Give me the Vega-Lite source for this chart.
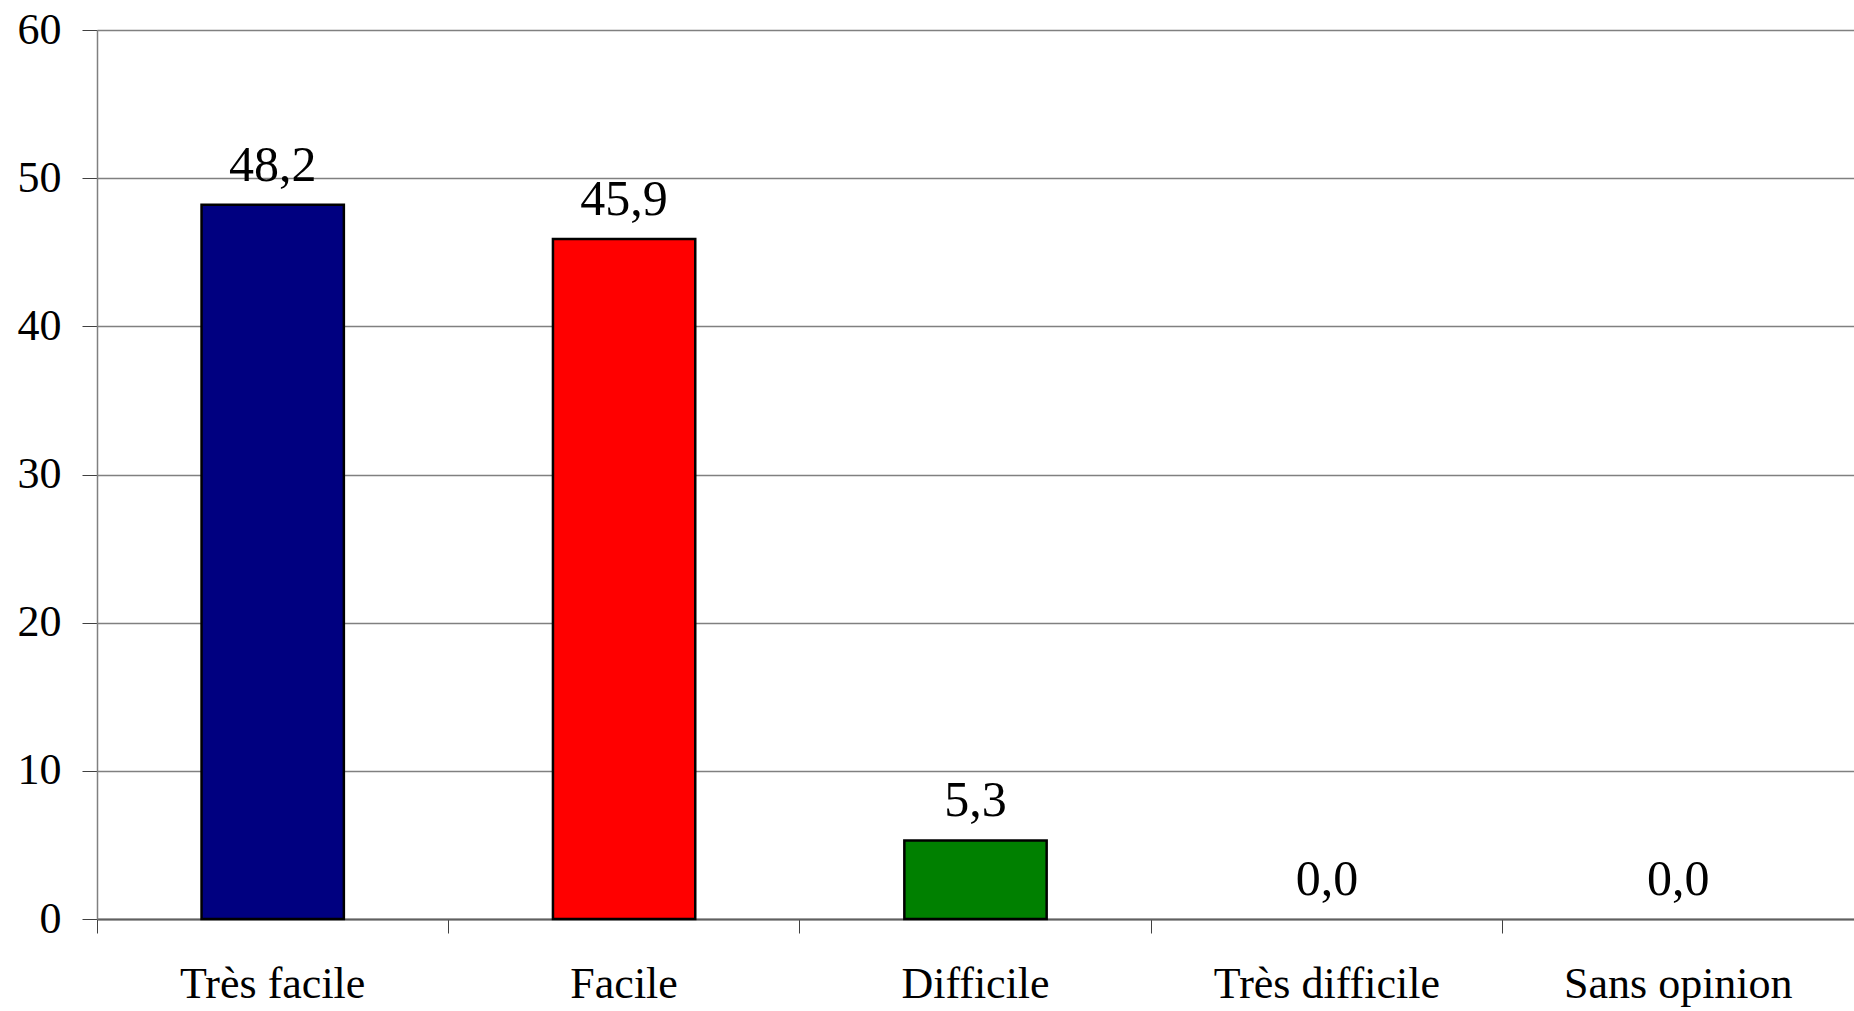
{
  "$schema": "https://vega.github.io/schema/vega-lite/v6.json",
  "width": 1757,
  "height": 889,
  "autosize": {"type": "none"},
  "padding": {"left": 97, "top": 30, "right": 0, "bottom": 92},
  "background": "white",
  "config": {"view": {"stroke": null}, "font": "Liberation Serif"},
  "data": {"values": [
    {"categorie": "Très facile", "valeur": 48.2, "label": "48,2", "couleur": "#000080"},
    {"categorie": "Facile", "valeur": 45.9, "label": "45,9", "couleur": "#FF0000"},
    {"categorie": "Difficile", "valeur": 5.3, "label": "5,3", "couleur": "#008000"},
    {"categorie": "Très difficile", "valeur": 0.0, "label": "0,0", "couleur": "#FFFF00"},
    {"categorie": "Sans opinion", "valeur": 0.0, "label": "0,0", "couleur": "#00FFFF"}
  ]},
  "encoding": {
    "x": {
      "field": "categorie", "type": "nominal", "sort": null,
      "scale": {"paddingInner": 0, "paddingOuter": 0},
      "axis": {
        "title": null, "labelAngle": 0, "labelFont": "Liberation Serif", "labelFontSize": 44,
        "labelColor": "black", "labelBaseline": "alphabetic", "labelPadding": 64, "labelLimit": 0,
        "bandPosition": 0, "tickSize": 14, "tickColor": "#404040", "tickWidth": 1,
        "domainColor": "#606060", "domainWidth": 2, "grid": false
      }
    },
    "y": {
      "field": "valeur", "type": "quantitative",
      "scale": {"domain": [0, 60], "nice": false},
      "axis": {
        "title": null, "values": [0, 10, 20, 30, 40, 50, 60], "labelFont": "Liberation Serif",
        "labelFontSize": 44, "labelColor": "black", "labelPadding": 21, "tickSize": 15,
        "tickColor": "#404040", "domainColor": "#808080", "domainWidth": 1.5,
        "grid": true, "gridColor": "#808080", "gridWidth": 1.5
      }
    }
  },
  "layer": [
    {
      "mark": {"type": "bar", "width": {"band": 0.405}, "stroke": "black", "strokeWidth": 2.5},
      "transform": [{"filter": "datum.valeur > 0"}],
      "encoding": {"color": {"field": "couleur", "type": "nominal", "scale": null, "legend": null}}
    },
    {
      "mark": {"type": "text", "font": "Liberation Serif", "fontSize": 50, "baseline": "alphabetic", "dy": -24, "color": "black"},
      "encoding": {"text": {"field": "label"}}
    }
  ]
}
